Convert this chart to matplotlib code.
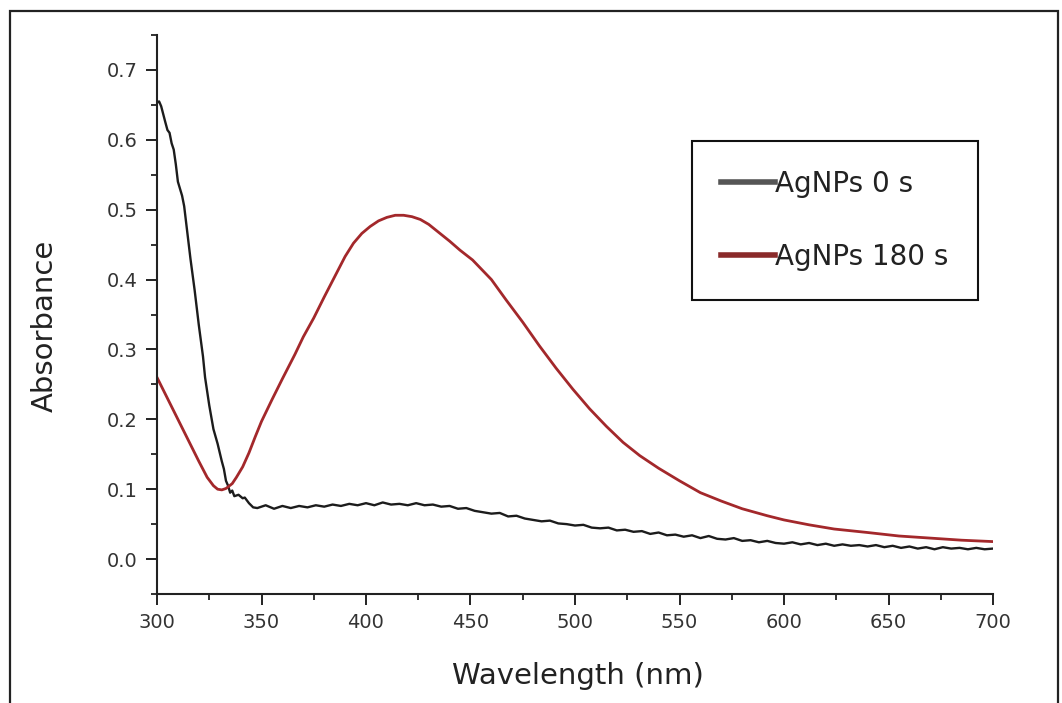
import numpy as np
import matplotlib
matplotlib.use("Agg")
import matplotlib.pyplot as plt
from matplotlib.patches import Rectangle
from matplotlib.ticker import MultipleLocator, FormatStrFormatter

# ---- data ----
wl_0s = [300, 301, 302, 304, 305, 306, 307, 308, 309, 310, 312, 313, 315, 316,
         318, 320, 322, 323, 325, 327, 329, 331, 332, 333, 334, 335, 336, 337,
         339, 341, 342, 344, 346,
         348, 352, 356, 360, 364, 368, 372, 376, 380, 384, 388, 392, 396, 400,
         404, 408, 412, 416, 420, 424, 428, 432, 436, 440, 444, 448, 452, 456,
         460, 464, 468, 472, 476, 480, 484, 488, 492, 496, 500, 504, 508, 512,
         516, 520, 524, 528, 532, 536, 540, 544, 548, 552, 556, 560, 564, 568,
         572, 576, 580, 584, 588, 592, 596, 600, 604, 608, 612, 616, 620, 624,
         628, 632, 636, 640, 644, 648, 652, 656, 660, 664, 668, 672, 676, 680,
         684, 688, 692, 696, 700]
abs_0s = [0.653, 0.655, 0.648, 0.625, 0.614, 0.610, 0.595, 0.586, 0.565, 0.540,
          0.520, 0.505, 0.455, 0.430, 0.385, 0.335, 0.290, 0.260, 0.220, 0.186,
          0.165, 0.140, 0.129, 0.112, 0.105, 0.095, 0.098, 0.090, 0.092, 0.087,
          0.088, 0.080, 0.074,
          0.073, 0.077, 0.072, 0.076, 0.073, 0.076, 0.074, 0.077, 0.075, 0.078,
          0.076, 0.079, 0.077, 0.080, 0.077, 0.081, 0.078, 0.079, 0.077, 0.080,
          0.077, 0.078, 0.075, 0.076, 0.072, 0.073, 0.069, 0.067, 0.065, 0.066,
          0.061, 0.062, 0.058, 0.056, 0.054, 0.055, 0.051, 0.050, 0.048, 0.049,
          0.045, 0.044, 0.045, 0.041, 0.042, 0.039, 0.040, 0.036, 0.038, 0.034,
          0.035, 0.032, 0.034, 0.030, 0.033, 0.029, 0.028, 0.030, 0.026, 0.027,
          0.024, 0.026, 0.023, 0.022, 0.024, 0.021, 0.023, 0.020, 0.022, 0.019,
          0.021, 0.019, 0.020, 0.018, 0.020, 0.017, 0.019, 0.016, 0.018, 0.015,
          0.017, 0.014, 0.017, 0.015, 0.016, 0.014, 0.016, 0.014, 0.015]

wl_180s = [300, 305, 310, 315, 320, 324, 327, 329, 331, 333, 336, 338, 341, 344,
           347, 350, 355, 360, 366, 370, 375, 380, 385, 390, 394, 398, 402, 406,
           410, 414, 418, 422, 426, 430, 435, 440, 445, 451, 460, 467, 475, 483,
           491, 499, 507, 515, 523, 531, 540, 550, 560, 570, 580, 592, 600, 612,
           624, 640, 655, 670, 685, 700]
abs_180s = [0.260, 0.230, 0.200, 0.170, 0.140, 0.117, 0.105, 0.100, 0.099, 0.101,
            0.108, 0.117, 0.132, 0.152, 0.175, 0.197, 0.228, 0.258, 0.293, 0.318,
            0.345, 0.375, 0.404, 0.433, 0.452, 0.466, 0.476, 0.484, 0.489, 0.492,
            0.492, 0.490, 0.486, 0.479, 0.467, 0.455, 0.442, 0.428, 0.400, 0.371,
            0.339, 0.305, 0.273, 0.243, 0.215, 0.190, 0.167, 0.148, 0.130, 0.112,
            0.095, 0.083, 0.072, 0.062, 0.056, 0.049, 0.043, 0.038, 0.033, 0.030,
            0.027, 0.025]

labels = ["AgNPs 0 s", "AgNPs 180 s"]

# ---- figure ----
W, H = 1062, 703
fig = plt.figure(figsize=(W / 100, H / 100), dpi=100)
ax = fig.add_axes([157 / W, 1 - 594 / H, (993 - 157) / W, (594 - 35) / H])

ax.plot(wl_0s, abs_0s, color="#1c1c1c", lw=1.7, label=labels[0])
ax.plot(wl_180s, abs_180s, color="#a3282b", lw=2.0, label=labels[1])

ax.set_xlim(300, 700)
ax.set_ylim(-0.05, 0.75)
ax.xaxis.set_major_locator(MultipleLocator(50))
ax.xaxis.set_minor_locator(MultipleLocator(25))
ax.yaxis.set_minor_locator(MultipleLocator(0.05))
ax.set_yticks(np.arange(0, 0.75, 0.1))
ax.yaxis.set_major_formatter(FormatStrFormatter("%.1f"))

for s in ["top", "right"]:
    ax.spines[s].set_visible(False)
for s in ["left", "bottom"]:
    ax.spines[s].set_linewidth(1.5)
    ax.spines[s].set_color("#222222")

ax.tick_params(which="major", direction="out", length=8, width=1.4,
               labelsize=14, labelcolor="#333333", color="#222222", pad=6)
ax.tick_params(which="minor", direction="out", length=4, width=1.3,
               color="#222222")

ax.set_xlabel("Wavelength (nm)", fontsize=21, color="#222222")
ax.set_ylabel("Absorbance", fontsize=21, color="#222222")
ax.xaxis.set_label_coords(0.503, -0.122)
ax.yaxis.set_label_coords(-0.117, 0.48)

leg = ax.legend(loc="upper right", bbox_to_anchor=(978 / W, 1 - 141 / H),
                bbox_transform=fig.transFigure, borderaxespad=0,
                fontsize=20, handlelength=1.95, handletextpad=0.0,
                labelspacing=1.62, borderpad=1.05, fancybox=False,
                framealpha=1, edgecolor="#111111")
leg.get_frame().set_linewidth(1.5)
for line in leg.get_lines():
    line.set_linewidth(4)
leg.get_lines()[0].set_color("#555555")
leg.get_lines()[1].set_color("#8a2a2a")
for t in leg.get_texts():
    t.set_color("#222222")

# outer frame of the scanned figure
fig.add_artist(Rectangle((10 / W, -0.02), (1058 - 10) / W, 1 - 11 / H + 0.02,
                         transform=fig.transFigure, fill=False,
                         edgecolor="#222222", lw=1.6))

fig.savefig("out.png", dpi=100)
